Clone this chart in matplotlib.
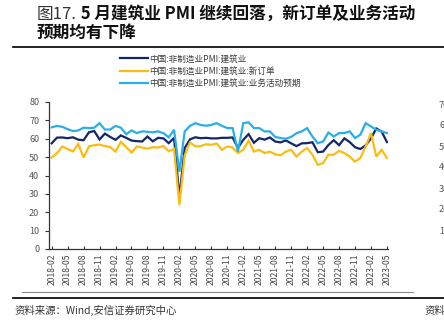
import matplotlib
matplotlib.use("Agg")
import matplotlib.pyplot as plt
from matplotlib.lines import Line2D
import pandas as pd

plt.rcParams["font.family"] = ["Noto Sans CJK SC", "DejaVu Sans"]

W, H = 444, 327

MONTHS = list(pd.period_range("2018-02", "2023-05", freq="M").strftime("%Y-%m"))

PMI_BUILD = [
    57.5, 60.6, 60.7, 60.3, 60.8, 59.5, 59.2, 63.5, 64.2, 59.6,
    62.8, 61.0, 59.4, 61.8, 60.5, 59.0, 58.7, 58.5, 61.2, 58.6,
    60.5, 60.2, 57.6, 60.5, 28.0, 55.0, 59.7, 60.8, 60.3, 60.5,
    60.2, 60.2, 60.5, 60.5, 60.7, 55.0, 59.4, 62.5, 57.8, 60.3,
    59.5, 60.7, 58.5, 58.0, 59.1, 57.5, 56.0, 57.5, 57.6, 58.1,
    52.7, 53.0, 56.6, 59.2, 56.5, 60.2, 58.2, 55.4, 54.4, 56.4,
    60.2, 65.6, 63.9, 58.2,
]
NEW_ORDERS = [
    49.8, 52.2, 55.8, 54.4, 53.1, 57.1, 49.8, 55.8, 56.5, 56.8,
    56.0, 55.5, 53.0, 58.3, 55.5, 52.5, 55.8, 55.2, 54.6, 55.4,
    55.2, 56.0, 53.2, 54.5, 24.0, 51.0, 58.0, 55.8, 56.0, 57.0,
    56.7, 57.4, 54.0, 55.8, 55.2, 52.2, 54.0, 59.0, 53.0, 54.0,
    52.2, 53.0, 51.5, 51.0, 53.0, 54.0, 50.3, 53.0, 54.9, 51.3,
    45.8, 46.7, 51.3, 51.3, 53.4, 52.2, 50.3, 47.6, 49.5, 55.8,
    63.1, 50.3, 54.0, 49.5,
]
EXPECT = [
    66.2, 67.0, 66.5, 65.2, 64.2, 64.5, 66.0, 65.8, 66.0, 68.5,
    65.0, 65.0, 67.0, 66.0, 62.5, 64.5, 63.1, 64.0, 63.8, 63.5,
    64.0, 63.0, 60.8, 64.9, 42.0, 64.0, 67.0, 68.5, 67.5, 67.1,
    67.5, 68.5, 67.0, 65.8, 65.8, 53.0, 68.5, 68.9, 65.8, 65.8,
    64.0, 64.0, 61.0, 60.4, 60.0, 61.0, 63.0, 64.0, 65.8, 61.2,
    57.6, 58.5, 63.4, 61.2, 63.1, 63.1, 64.0, 60.4, 62.2, 68.5,
    66.7, 64.9, 64.0, 63.1,
]

SERIES = [
    ("中国:非制造业PMI:建筑业", PMI_BUILD, "#13266b"),
    ("中国:非制造业PMI:建筑业:新订单", NEW_ORDERS, "#fbbc12"),
    ("中国:非制造业PMI:建筑业:业务活动预期", EXPECT, "#2aaee9"),
]
RIGHT_LABELS = ["70", "60", "50", "40", "30", "20", "10"]


def fx(px):
    return px / W


def fy(py):
    return 1 - py / H


fig = plt.figure(figsize=(W / 100, H / 100), dpi=100)
ax = fig.add_axes([fx(49), fy(249), fx(388 - 49), (249 - 102) / H])

x = list(range(len(MONTHS)))
for label, values, color in SERIES:
    ax.plot(x, values, color=color, linewidth=1.6, label=label, solid_joinstyle="miter")

ax.set_xlim(-0.5, len(MONTHS) - 0.8)
ax.set_ylim(0, 80)
ax.set_yticks(range(0, 81, 10))
ax.set_xticks(x[::3])
ax.set_xticklabels(MONTHS[::3], rotation=90)
ax.tick_params(axis="y", direction="out", length=3, width=0.8, pad=4,
               labelsize=6.5, colors="#333333", labelcolor="#555555")
ax.tick_params(axis="x", direction="in", length=2, width=0.8, pad=3,
               labelsize=6.2, colors="#333333", labelcolor="#444444")
for side in ("top", "right"):
    ax.spines[side].set_visible(False)
for side in ("left", "bottom"):
    ax.spines[side].set_color("#333333")
    ax.spines[side].set_linewidth(0.9)

fig.legend(loc="upper left", bbox_to_anchor=(fx(116), fy(50)), frameon=False,
           fontsize=6.2, handlelength=3.2, handletextpad=0.2, labelspacing=0.4,
           borderpad=0, labelcolor="#3a3a3a")

# title
t1 = fig.text(fx(37), fy(19), "图17.", fontsize=12, color="#333333", va="baseline")
ax.annotate(" 5 月建筑业 PMI 继续回落，新订单及业务活动", xy=(1, 0), xycoords=t1,
            fontsize=12, fontweight="heavy", color="#111111", va="bottom")
fig.text(fx(37), fy(38), "预期均有下降", fontsize=12, fontweight="heavy",
         color="#111111", va="baseline")

# rules
fig.add_artist(Line2D([fx(13), 1], [fy(47), fy(47)], color="#111111", linewidth=1.3))
fig.add_artist(Line2D([fx(22), fx(413)], [fy(292), fy(292)], color="#8a8a8a", linewidth=0.8))
fig.add_artist(Line2D([fx(13), 1], [fy(298), fy(298)], color="#111111", linewidth=1.3))

fig.text(fx(15), fy(314), "资料来源：Wind,安信证券研究中心", fontsize=7.5,
         color="#333333", va="baseline", style="italic")
fig.text(fx(425), fy(314), "资料来源", fontsize=7.5, color="#333333",
         va="baseline", style="italic")

# cut-off labels of the neighbouring chart at the right edge
for k, lab in enumerate(RIGHT_LABELS):
    fig.text(fx(439), fy(105 + k * 21), lab, fontsize=6.5, color="#555555", va="center")

fig.savefig("out.png", dpi=100)
